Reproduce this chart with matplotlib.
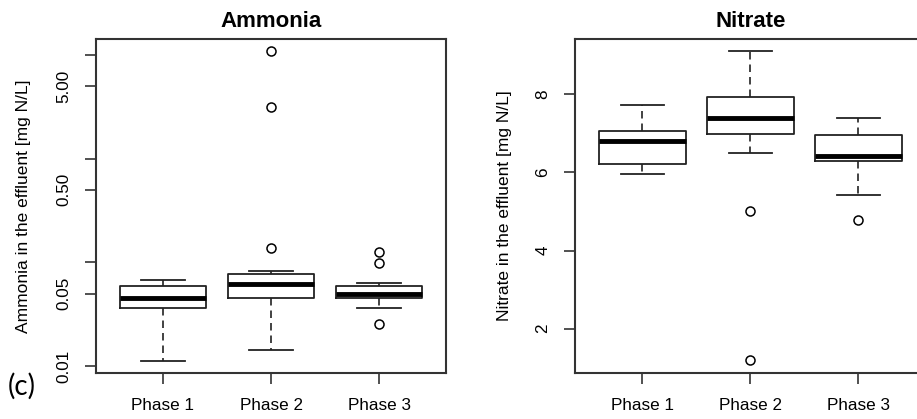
import numpy as np
import matplotlib.pyplot as plt

plt.rcParams['font.family'] = ['Liberation Sans', 'DejaVu Sans']

phases = ['Phase 1', 'Phase 2', 'Phase 3']

# ammonia box stats [mg N/L]: whislo, q1, med, q3, whishi
nh4_whislo = [0.0113, 0.0143, 0.0366]
nh4_q1 = [0.0366, 0.0451, 0.0451]
nh4_med = [0.0454, 0.0622, 0.0499]
nh4_q3 = [0.0588, 0.0768, 0.0588]
nh4_whishi = [0.0672, 0.0833, 0.0638]
nh4_fliers = [[], [11.0, 3.13, 0.137], [0.127, 0.0996, 0.0255]]

# nitrate box stats [mg N/L]
no3_whislo = [5.97, 6.49, 5.41]
no3_q1 = [6.22, 6.985, 6.30]
no3_med = [6.80, 7.386, 6.43]
no3_q3 = [7.07, 7.94, 6.95]
no3_whishi = [7.73, 9.11, 7.386]
no3_fliers = [[], [5.0, 1.2], [4.78]]

amm_ticks = [0.01, 0.05, 0.1, 0.5, 1, 5, 10]
amm_ticklabels = ['0.01', '0.05', '', '0.50', '', '5.00', '']
nit_ticks = [2, 4, 6, 8]


def make_stats(lo, q1, med, q3, hi, fl):
    out = []
    for i in range(len(lo)):
        out.append(dict(whislo=lo[i], q1=q1[i], med=med[i], q3=q3[i],
                        whishi=hi[i], fliers=fl[i]))
    return out


def draw(ax, stats, title, ylabel):
    ax.bxp(stats, positions=[1, 2, 3], widths=0.8, capwidths=0.4,
           boxprops=dict(color='#222222', lw=1.3),
           medianprops=dict(color='black', lw=3.5, solid_capstyle='butt'),
           whiskerprops=dict(color='#222222', lw=1.2, ls=(0, (4.5, 3))),
           capprops=dict(color='#222222', lw=1.3),
           flierprops=dict(marker='o', markerfacecolor='none',
                           markeredgecolor='black', markersize=6.5, mew=1.1))
    ax.set_xlim(0.38, 3.62)
    ax.set_xticks([1, 2, 3])
    ax.set_xticklabels(phases)
    ax.set_title(title, fontsize=16, fontweight='bold', pad=9)
    ax.set_ylabel(ylabel, fontsize=12.5, labelpad=18)
    ax.tick_params(length=8, width=1.2, color='#333333', labelsize=12.3, pad=10)
    for s in ax.spines.values():
        s.set_color('#333333')
        s.set_linewidth(1.5)


fig = plt.figure(figsize=(9.17, 4.19), dpi=100)
ax1 = fig.add_axes([0.1047, 0.1098, 0.3817, 0.7971])
ax2 = fig.add_axes([0.6274, 0.1098, 0.3817, 0.7971])

draw(ax1, make_stats(nh4_whislo, nh4_q1, nh4_med, nh4_q3, nh4_whishi, nh4_fliers),
     'Ammonia', 'Ammonia in the effluent [mg N/L]')
ax1.set_yscale('log')
ax1.set_ylim(0.00859, 14.2)
ax1.set_yticks(amm_ticks)
ax1.set_yticklabels(amm_ticklabels, rotation=90, va='center')
ax1.minorticks_off()

draw(ax2, make_stats(no3_whislo, no3_q1, no3_med, no3_q3, no3_whishi, no3_fliers),
     'Nitrate', 'Nitrate in the effluent [mg N/L]')
ax2.set_ylim(0.865, 9.415)
ax2.set_yticks(nit_ticks)
ax2.set_yticklabels([str(t) for t in nit_ticks], rotation=90, va='center')
ax2.yaxis.labelpad = 17

fig.text(0.008, 0.077, '(c)', fontsize=20, family=['Lato', 'DejaVu Sans'],
         va='center', ha='left')

fig.savefig('out.png', dpi=100)
